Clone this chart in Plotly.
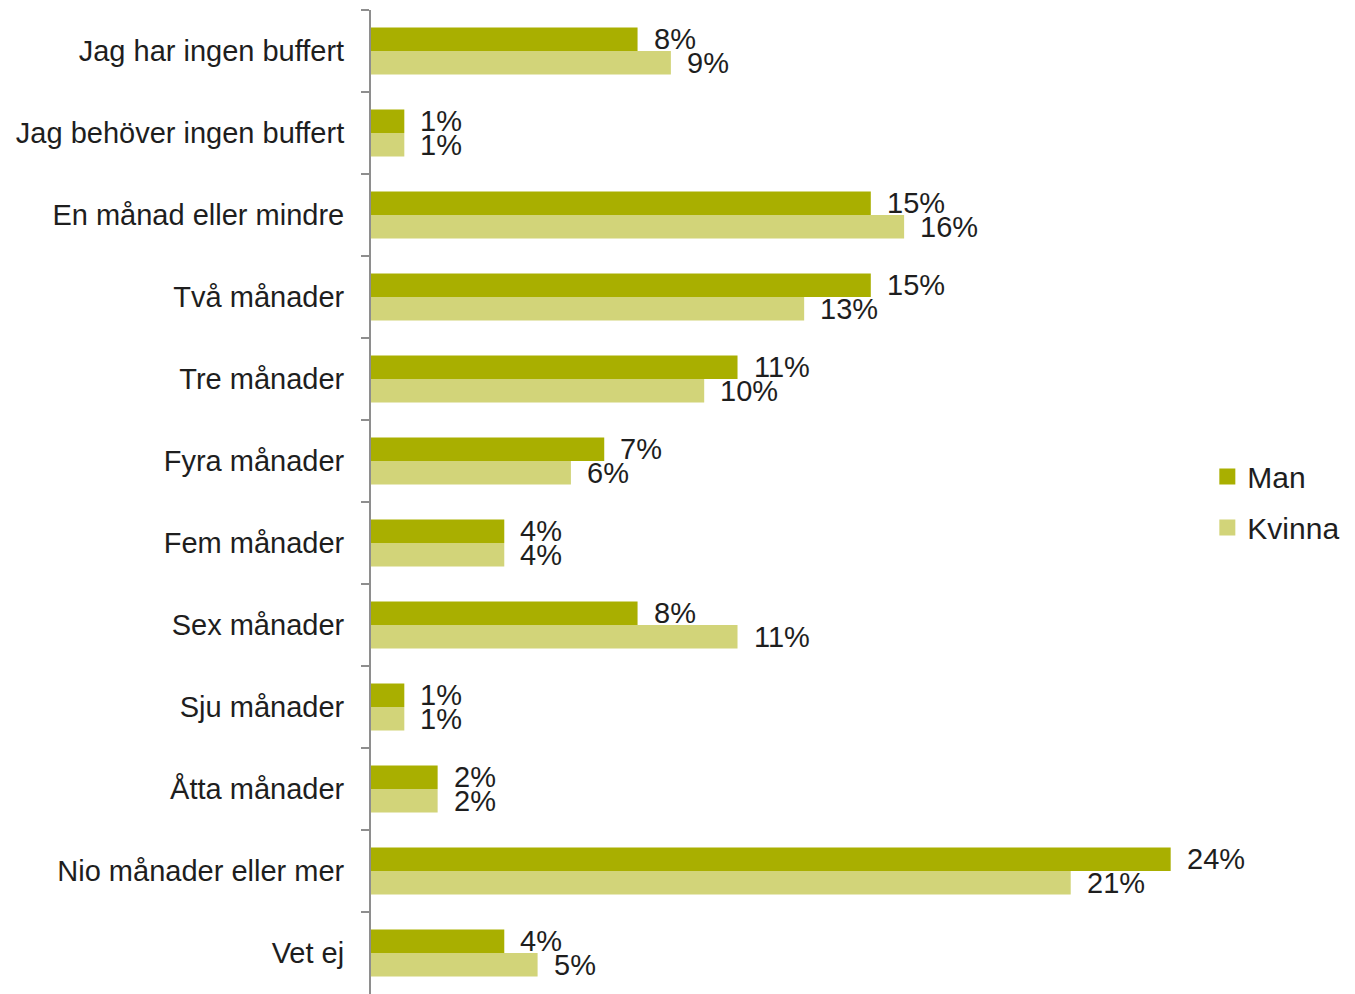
import plotly.graph_objects as go

categories = [
    "Jag har ingen buffert",
    "Jag behöver ingen buffert",
    "En månad eller mindre",
    "Två månader",
    "Tre månader",
    "Fyra månader",
    "Fem månader",
    "Sex månader",
    "Sju månader",
    "Åtta månader",
    "Nio månader eller mer",
    "Vet ej",
]
man = [8, 1, 15, 15, 11, 7, 4, 8, 1, 2, 24, 4]
kvinna = [9, 1, 16, 13, 10, 6, 4, 11, 1, 2, 21, 5]

C_MAN = "#A9AF00"
C_KVI = "#D2D479"
TXT = "#1E1E1E"
FONT = "Liberation Sans, Arial, sans-serif"

fig = go.Figure()
fig.add_trace(go.Bar(y=categories, x=man, orientation="h", name="Man",
                     marker=dict(color=C_MAN, line=dict(width=0)),
                     showlegend=False, offsetgroup="m"))
fig.add_trace(go.Bar(y=categories, x=kvinna, orientation="h", name="Kvinna",
                     marker=dict(color=C_KVI, line=dict(width=0)),
                     showlegend=False, offsetgroup="k"))
# legend entries
fig.add_trace(go.Scatter(x=[None], y=[None], mode="markers", name="Man",
                         marker=dict(symbol="square", size=16, color=C_MAN),
                         legendgroup="a"))
fig.add_trace(go.Scatter(x=[None], y=[None], mode="markers", name="Kvinna",
                         marker=dict(symbol="square", size=16, color=C_KVI),
                         legendgroup="b"))

annotations = []
for cat, vm, vk in zip(categories, man, kvinna):
    annotations.append(dict(x=vm, y=cat, xref="x", yref="y", text=f"{vm}%",
                            showarrow=False, xanchor="left", yanchor="middle",
                            xshift=14, yshift=12.5,
                            font=dict(size=29, color=TXT, family=FONT)))
    annotations.append(dict(x=vk, y=cat, xref="x", yref="y", text=f"{vk}%",
                            showarrow=False, xanchor="left", yanchor="middle",
                            xshift=14, yshift=-11.5,
                            font=dict(size=29, color=TXT, family=FONT)))

# page body has an 8px default margin; sizes compensate for it
fig.update_layout(
    width=1347, height=986,
    margin=dict(l=363, r=151, t=2, b=0, pad=0),
    paper_bgcolor="white", plot_bgcolor="white",
    barmode="group", bargap=0.427, bargroupgap=0,
    font=dict(family=FONT, color=TXT, size=29),
    annotations=annotations,
    legend=dict(x=1.004, xanchor="left", y=0.5, yanchor="middle",
                font=dict(size=30, color=TXT, family=FONT),
                tracegroupgap=9, bgcolor="rgba(0,0,0,0)"),
)
fig.update_xaxes(range=[0, 25], showgrid=False, zeroline=False,
                 showticklabels=False, showline=False, ticks="",
                 automargin=False)
fig.update_yaxes(autorange="reversed", showgrid=False, zeroline=False,
                 showline=True, linecolor="#8E8E8E", linewidth=2,
                 ticks="outside", tickson="boundaries", ticklen=8,
                 tickcolor="#8E8E8E", tickwidth=2, ticklabelstandoff=19,
                 automargin=False,
                 tickfont=dict(size=29, color=TXT, family=FONT))

fig.write_html("out.html")
